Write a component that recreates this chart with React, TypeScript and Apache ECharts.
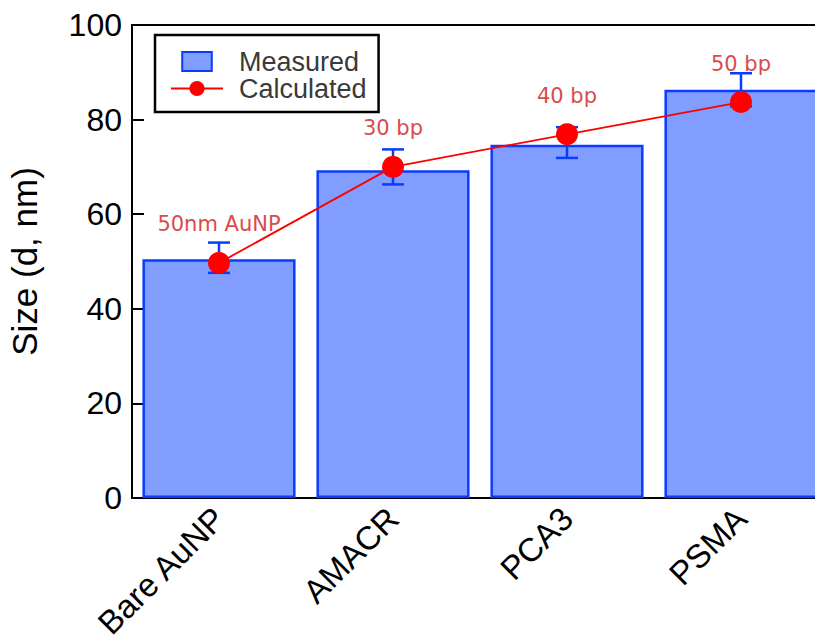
import React, { useEffect, useRef } from "react";
import * as echarts from "echarts";

const categories = ["Bare AuNP", "AMACR", "PCA3", "PSMA"];
const measured = [50.5, 69.3, 74.7, 86.3];
const errLow = [47.6, 66.3, 71.9, 82.8];
const errHigh = [54.0, 73.7, 78.4, 89.8];
const calculated = [49.7, 70.0, 76.9, 83.7];
const pointLabels = ["50nm AuNP", "30 bp", "40 bp", "50 bp"];
const yTicks = { min: 0, max: 100, interval: 20 };

const BLUE = "#0a3cff";
const FILL = "#809dff";
const RED = "#ff0000";
const FONT = "'Liberation Sans', Arial, sans-serif";

export default function App() {
  const ref = useRef<HTMLDivElement>(null);
  useEffect(() => {
    if (!ref.current) return;
    const chart = echarts.init(ref.current, null, { renderer: "svg" });
    chart.setOption({
      animation: false,
      backgroundColor: "#fff",
      textStyle: { fontFamily: FONT },
      grid: {
        left: 132,
        top: 25,
        width: 696,
        height: 473,
        show: true,
        borderColor: "#000",
        borderWidth: 2,
        containLabel: false,
        outerBoundsMode: "none",
      },
      legend: {
        data: [
          { name: "Measured", icon: "path://M0,0h28v18h-28z" },
          { name: "Calculated" },
        ],
        orient: "vertical",
        left: 155,
        top: 35,
        itemWidth: 52,
        itemHeight: 19,
        itemGap: 0,
        padding: [13, 12, 10, 15],
        borderColor: "#000",
        borderWidth: 2.5,
        selectedMode: false,
        textStyle: {
          fontSize: 27,
          color: "#3a3a3a",
          fontFamily: FONT,
          padding: [0, 0, 0, 11],
        },
      },
      xAxis: {
        type: "category",
        data: categories,
        axisLine: { lineStyle: { color: "#000", width: 2 } },
        axisTick: {
          inside: true,
          length: 10,
          alignWithLabel: false,
          lineStyle: { color: "#000", width: 2 },
        },
        axisLabel: {
          rotate: 45,
          fontSize: 33,
          color: "#000",
          margin: 15,
          fontFamily: FONT,
        },
        splitLine: { show: false },
      },
      yAxis: {
        type: "value",
        min: yTicks.min,
        max: yTicks.max,
        interval: yTicks.interval,
        name: "Size (d, nm)",
        nameLocation: "middle",
        nameGap: 90,
        nameTextStyle: { fontSize: 35, color: "#000", fontFamily: FONT },
        axisLine: { show: true, lineStyle: { color: "#000", width: 2 } },
        axisTick: {
          show: true,
          inside: true,
          length: 12,
          lineStyle: { color: "#000", width: 2 },
        },
        axisLabel: { fontSize: 32, color: "#000", margin: 10, fontFamily: FONT },
        splitLine: { show: false },
      },
      series: [
        {
          name: "Measured",
          type: "bar",
          data: measured,
          barCategoryGap: "12%",
          itemStyle: { color: FILL, borderColor: BLUE, borderWidth: 2.5 },
          z: 1,
        },
        {
          name: "err",
          type: "custom",
          data: categories.map((_, i) => [i, errLow[i], errHigh[i]]),
          encode: { x: 0, y: [1, 2] },
          z: 3,
          renderItem: (params: any, api: any) => {
            const idx = api.value(0);
            const lo = api.coord([idx, api.value(1)]);
            const hi = api.coord([idx, api.value(2)]);
            const half = 11;
            const style = { stroke: BLUE, lineWidth: 2.5 };
            return {
              type: "group",
              children: [
                { type: "line", shape: { x1: hi[0], y1: hi[1], x2: lo[0], y2: lo[1] }, style },
                { type: "line", shape: { x1: hi[0] - half, y1: hi[1], x2: hi[0] + half, y2: hi[1] }, style },
                { type: "line", shape: { x1: lo[0] - half, y1: lo[1], x2: lo[0] + half, y2: lo[1] }, style },
              ],
            };
          },
        },
        {
          name: "Calculated",
          type: "line",
          data: calculated,
          z: 5,
          symbol: "circle",
          symbolSize: 22,
          itemStyle: { color: RED },
          lineStyle: { color: RED, width: 1.8 },
          label: {
            show: true,
            position: "top",
            distance: 17,
            fontSize: 21,
            color: "#d84c4c",
            fontFamily: "'DejaVu Sans', sans-serif",
            formatter: (p: any) => pointLabels[p.dataIndex],
          },
        },
      ],
    });
    return () => chart.dispose();
  }, []);
  return <div ref={ref} style={{ width: 815, height: 640, position: "absolute", left: 0, top: 0 }} />;
}
